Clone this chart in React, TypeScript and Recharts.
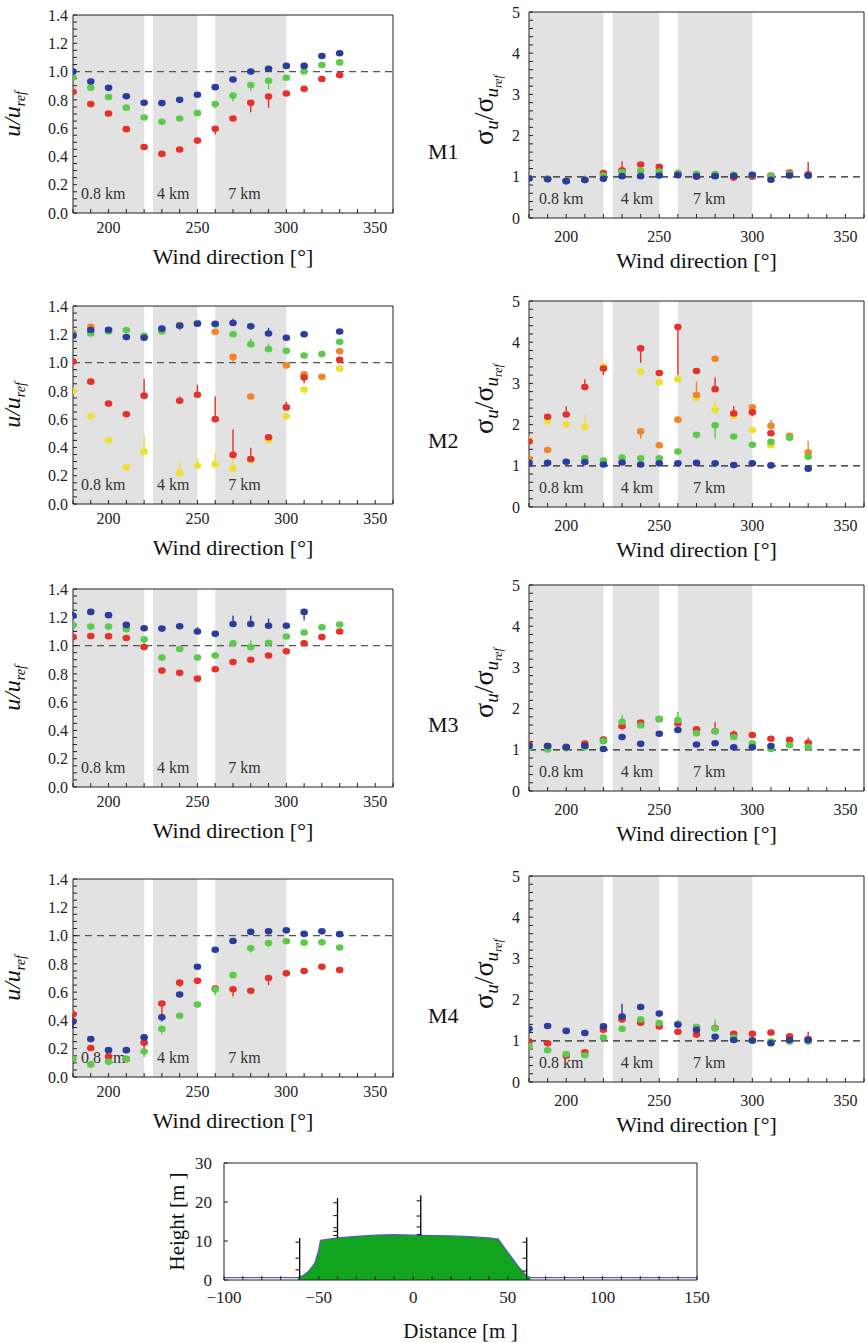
import React from "react";
import {
  Area,
  ComposedChart,
  ErrorBar,
  Line,
  ReferenceArea,
  ReferenceLine,
  Scatter,
  ScatterChart,
  XAxis,
  YAxis,
} from "recharts";

const FONT = '"Liberation Serif", "Times New Roman", serif';

const BLUE = "#2b3c9d";
const GREEN = "#5ccb4c";
const RED = "#e6312b";
const ORANGE = "#f08628";
const YELLOW = "#eee02f";

type Vals = (number | null)[];
type Err = [number, number][]; // [direction, signed error length]

const directions = [180, 190, 200, 210, 220, 230, 240, 250, 260, 270, 280, 290, 300, 310, 320, 330];

const sectorStart = [180, 225, 260];
const sectorEnd = [220, 250, 300];
const sectorName = ["0.8 km", "4 km", "7 km"];

// ---- M1
const m1SpeedRed = [0.857, 0.77, 0.703, 0.593, 0.467, 0.418, 0.449, 0.512, 0.595, 0.668, 0.78, 0.824, 0.845, 0.878, 0.947, 0.975];
const m1SpeedGreen = [0.96, 0.885, 0.82, 0.745, 0.675, 0.645, 0.668, 0.706, 0.77, 0.83, 0.905, 0.935, 0.956, 1.0, 1.046, 1.065];
const m1SpeedBlue = [1.0, 0.93, 0.885, 0.826, 0.78, 0.777, 0.8, 0.836, 0.89, 0.944, 1.0, 1.02, 1.04, 1.04, 1.11, 1.13];
const m1SpeedRedErr: Err = [[260, -0.04], [280, -0.07], [290, -0.08]];
const m1SpeedGreenErr: Err = [[260, -0.03], [270, -0.04], [280, -0.04], [290, -0.06]];

const m1SigmaRed = [0.97, 0.95, 0.9, 0.93, 1.09, 1.16, 1.3, 1.24, 1.08, 1.0, 1.03, 0.98, 1.0, 1.03, 1.105, 1.06];
const m1SigmaGreen = [0.97, 0.95, 0.9, 0.93, 1.03, 1.11, 1.146, 1.13, 1.09, 1.07, 1.065, 1.05, 1.04, 1.016, 1.07, 1.02];
const m1SigmaBlue = [0.96, 0.94, 0.895, 0.92, 0.95, 1.016, 1.016, 1.03, 1.04, 1.016, 1.016, 1.024, 1.05, 0.93, 1.03, 1.03];
const m1SigmaRedErr: Err = [[210, 0.1], [230, 0.22], [260, 0.1], [330, 0.3]];

// ---- M2
const m2SpeedYellow: Vals = [0.8, 0.62, 0.45, 0.26, 0.37, null, 0.22, 0.27, 0.28, 0.25, 0.31, 0.45, 0.62, 0.81, null, 0.957];
const m2SpeedOrange: Vals = [1.21, 1.253, null, null, null, null, 1.265, null, 1.218, 1.04, 0.76, null, 0.98, 0.917, 0.9, 1.08];
const m2SpeedRed: Vals = [1.007, 0.865, 0.71, 0.635, 0.766, null, 0.73, 0.773, 0.6, 0.347, 0.318, 0.472, 0.683, 0.894, null, 1.02];
const m2SpeedGreen: Vals = [1.2, 1.206, 1.22, 1.23, 1.19, 1.22, 1.262, 1.28, 1.27, 1.2, 1.13, 1.095, 1.083, 1.05, 1.06, 1.147];
const m2SpeedBlue: Vals = [1.19, 1.23, 1.232, 1.18, 1.175, 1.24, 1.26, 1.275, 1.275, 1.28, 1.256, 1.206, 1.175, 1.2, null, 1.22];
const m2SpeedYellowErr: Err = [[220, 0.12], [240, 0.08], [250, 0.05], [260, 0.08], [270, 0.08], [310, -0.03]];
const m2SpeedOrangeErr: Err = [[240, -0.04], [270, -0.04]];
const m2SpeedRedErr: Err = [[220, 0.12], [240, 0.03], [250, 0.07], [260, 0.16], [270, 0.18], [280, 0.08], [300, 0.04], [310, -0.04]];
const m2SpeedGreenErr: Err = [[280, 0.04], [290, 0.04]];
const m2SpeedBlueErr: Err = [[270, 0.03], [290, 0.04]];

const m2SigmaYellow: Vals = [1.64, 2.08, 2.0, 1.94, 3.42, null, 3.29, 3.03, 3.1, 2.65, 2.36, 2.21, 1.87, 1.5, null, null];
const m2SigmaOrange: Vals = [1.17, 1.385, null, null, null, null, 1.835, 1.5, 2.12, 2.72, 3.6, null, 2.42, 1.97, 1.73, 1.33];
const m2SigmaRed: Vals = [1.59, 2.19, 2.245, 2.91, 3.36, null, 3.85, 3.25, 4.37, 3.3, 2.86, 2.27, 2.3, 1.79, null, null];
const m2SigmaGreen: Vals = [null, null, null, 1.19, 1.13, 1.2, 1.185, 1.185, 1.345, 1.755, 1.98, 1.71, 1.51, 1.58, 1.68, 1.22];
const m2SigmaBlue: Vals = [1.07, 1.07, 1.1, 1.09, 1.03, 1.08, 1.03, 1.06, 1.06, 1.07, 1.06, 1.02, 1.06, 1.01, null, 0.93];
const m2SigmaYellowErr: Err = [[210, 0.3], [280, 0.22], [310, 0.08]];
const m2SigmaOrangeErr: Err = [[240, -0.18], [270, 0.33], [310, 0.15], [330, 0.27]];
const m2SigmaRedErr: Err = [[190, 0.06], [200, 0.2], [210, 0.19], [220, -0.16], [240, -0.35], [260, -1.17], [280, 0.29], [290, 0.18], [300, -0.1]];
const m2SigmaGreenErr: Err = [[270, -0.1], [280, -0.32]];

// ---- M3
const m3SpeedRed = [1.06, 1.068, 1.066, 1.054, 0.99, 0.823, 0.807, 0.766, 0.833, 0.884, 0.9, 0.93, 0.96, 1.016, 1.06, 1.1];
const m3SpeedGreen = [1.144, 1.134, 1.134, 1.115, 1.045, 0.915, 0.976, 0.915, 0.93, 1.016, 0.988, 1.02, 1.064, 1.092, 1.13, 1.149];
const m3SpeedBlue: Vals = [1.21, 1.238, 1.215, 1.146, 1.123, 1.12, 1.137, 1.1, 1.083, 1.153, 1.153, 1.14, 1.14, 1.238, null, null];
const m3SpeedGreenErr: Err = [[220, -0.04], [280, 0.05]];
const m3SpeedBlueErr: Err = [[180, 0.03], [250, 0.03], [270, 0.06], [280, 0.06], [290, 0.05], [310, -0.06]];

const m3SigmaRed = [1.13, 1.09, 1.07, 1.15, 1.25, 1.57, 1.66, 1.74, 1.64, 1.5, 1.45, 1.37, 1.36, 1.27, 1.24, 1.17];
const m3SigmaGreen = [1.05, 1.01, 1.04, 1.06, 1.21, 1.68, 1.59, 1.75, 1.72, 1.4, 1.45, 1.31, 1.15, 1.02, 1.11, 1.07];
const m3SigmaBlue: Vals = [1.09, 1.09, 1.06, 1.1, 1.02, 1.31, 1.145, 1.39, 1.48, 1.13, 1.16, 1.06, 1.06, 1.09, null, null];
const m3SigmaRedErr: Err = [[220, 0.07], [280, 0.23], [290, 0.1], [330, 0.13]];
const m3SigmaGreenErr: Err = [[230, 0.17], [260, 0.2]];

// ---- M4
const m4SpeedRed = [0.444, 0.205, 0.144, 0.125, 0.243, 0.52, 0.667, 0.68, 0.625, 0.62, 0.61, 0.7, 0.733, 0.75, 0.78, 0.756];
const m4SpeedGreen = [0.128, 0.088, 0.107, 0.128, 0.18, 0.34, 0.433, 0.512, 0.618, 0.72, 0.91, 0.948, 0.96, 0.95, 0.953, 0.916];
const m4SpeedBlue = [0.393, 0.268, 0.19, 0.19, 0.28, 0.423, 0.583, 0.78, 0.9, 0.962, 1.026, 1.03, 1.037, 1.012, 1.03, 1.01];
const m4SpeedRedErr: Err = [[180, -0.06], [220, -0.05], [230, -0.09], [240, -0.03], [270, -0.05], [290, -0.05]];
const m4SpeedGreenErr: Err = [[220, -0.04], [230, -0.04], [260, -0.04], [280, -0.03], [290, -0.03]];
const m4SpeedBlueErr: Err = [[180, -0.05], [230, -0.03]];

const m4SigmaRed = [0.98, 0.94, 0.64, 0.72, 1.27, 1.52, 1.44, 1.35, 1.22, 1.15, 1.31, 1.17, 1.17, 1.2, 1.11, 1.04];
const m4SigmaGreen = [0.87, 0.77, 0.68, 0.65, 1.08, 1.29, 1.52, 1.43, 1.41, 1.34, 1.3, 1.08, 1.0, 0.98, 0.98, 0.98];
const m4SigmaBlue = [1.29, 1.36, 1.24, 1.19, 1.35, 1.59, 1.82, 1.66, 1.39, 1.27, 1.1, 1.02, 1.01, 0.94, 1.02, 1.02];
const m4SigmaRedErr: Err = [[330, 0.18]];
const m4SigmaGreenErr: Err = [[280, 0.22], [290, 0.14]];
const m4SigmaBlueErr: Err = [[210, 0.08], [230, 0.31], [260, 0.1]];

// ---- terrain profile
const terrainDistance = [-100, -61, -58, -55, -52, -50, -49, -40, -30, -20, -10, 0, 10, 20, 30, 40, 45, 48, 52, 56, 60, 62, 150];
const terrainHeight = [0.6, 0.6, 1.2, 2.4, 4.3, 7.5, 10.2, 10.8, 11.2, 11.5, 11.6, 11.5, 11.4, 11.3, 11.1, 10.8, 10.5, 8.4, 5.8, 3.2, 1.0, 0.6, 0.6];
const hillStart = -61;
const hillEnd = 62;
const mastDistance = [-60, -40, 4, 60];
const mastBase = [0.6, 10.8, 11.5, 1.0];
const mastTop = [10.8, 21, 21.7, 10.9];
const mastLevels = [
  [2.6, 5.6, 9.7],
  [11.4, 12.5, 13.4, 16.5, 19.8],
  [11.6, 13.6, 16.4, 20.3],
  [2.3, 5.6, 9.7],
];

type Series = { color: string; values: Vals; errors: Err };

const m1Speed: Series[] = [
  { color: RED, values: m1SpeedRed, errors: m1SpeedRedErr },
  { color: GREEN, values: m1SpeedGreen, errors: m1SpeedGreenErr },
  { color: BLUE, values: m1SpeedBlue, errors: [] },
];
const m1Sigma: Series[] = [
  { color: RED, values: m1SigmaRed, errors: m1SigmaRedErr },
  { color: GREEN, values: m1SigmaGreen, errors: [] },
  { color: BLUE, values: m1SigmaBlue, errors: [] },
];
const m2Speed: Series[] = [
  { color: YELLOW, values: m2SpeedYellow, errors: m2SpeedYellowErr },
  { color: ORANGE, values: m2SpeedOrange, errors: m2SpeedOrangeErr },
  { color: RED, values: m2SpeedRed, errors: m2SpeedRedErr },
  { color: GREEN, values: m2SpeedGreen, errors: m2SpeedGreenErr },
  { color: BLUE, values: m2SpeedBlue, errors: m2SpeedBlueErr },
];
const m2Sigma: Series[] = [
  { color: YELLOW, values: m2SigmaYellow, errors: m2SigmaYellowErr },
  { color: ORANGE, values: m2SigmaOrange, errors: m2SigmaOrangeErr },
  { color: RED, values: m2SigmaRed, errors: m2SigmaRedErr },
  { color: GREEN, values: m2SigmaGreen, errors: m2SigmaGreenErr },
  { color: BLUE, values: m2SigmaBlue, errors: [] },
];
const m3Speed: Series[] = [
  { color: RED, values: m3SpeedRed, errors: [] },
  { color: GREEN, values: m3SpeedGreen, errors: m3SpeedGreenErr },
  { color: BLUE, values: m3SpeedBlue, errors: m3SpeedBlueErr },
];
const m3Sigma: Series[] = [
  { color: RED, values: m3SigmaRed, errors: m3SigmaRedErr },
  { color: GREEN, values: m3SigmaGreen, errors: m3SigmaGreenErr },
  { color: BLUE, values: m3SigmaBlue, errors: [] },
];
const m4Speed: Series[] = [
  { color: RED, values: m4SpeedRed, errors: m4SpeedRedErr },
  { color: GREEN, values: m4SpeedGreen, errors: m4SpeedGreenErr },
  { color: BLUE, values: m4SpeedBlue, errors: m4SpeedBlueErr },
];
const m4Sigma: Series[] = [
  { color: RED, values: m4SigmaRed, errors: m4SigmaRedErr },
  { color: GREEN, values: m4SigmaGreen, errors: m4SigmaGreenErr },
  { color: BLUE, values: m4SigmaBlue, errors: m4SigmaBlueErr },
];

const directionTicks = Array.from({ length: 19 }, (_, i) => 180 + i * 10);

function points(s: Series) {
  const errAt = new Map(s.errors);
  return directions
    .map((x, i) => {
      const e = errAt.get(x) ?? 0;
      return { x, y: s.values[i], err: e < 0 ? [-e, 0] : [0, e] };
    })
    .filter((d) => d.y !== null && d.y !== undefined);
}

const layout = {
  speed: { left: 0, width: 400, axisW: 73, right: 6, plotH: 198, max: 1.4, step: 0.05, major: 0.2, xGap: 13, yGap: 9, xLabelDy: 51, labelDx: [8, 4, 13], dash: "#555" },
  sigma: { left: 410, width: 457, axisW: 119, right: 2, plotH: 206, max: 5, step: 0.2, major: 1, xGap: 17, yGap: 13, xLabelDy: 50, labelDx: [10, 8, 15], dash: "#222" },
};

const tickStyle = { fill: "#222", fontSize: 16, fontFamily: FONT };

function speedLabel(p: any) {
  const vb = p.viewBox || {};
  const cx = vb.x + 20;
  const cy = vb.y + vb.height / 2;
  return (
    <text x={cx} y={cy} transform={`rotate(-90 ${cx} ${cy})`} textAnchor="middle" fontFamily={FONT} fontSize={24} fontStyle="italic" fill="#111">
      u/u<tspan fontSize={14} dy={5}>ref</tspan>
    </text>
  );
}

function sigmaLabel(p: any, name: string) {
  const vb = p.viewBox || {};
  const cx = vb.x + 83;
  const cy = vb.y + vb.height / 2 - 5;
  return (
    <g>
      <text x={vb.x + 18} y={vb.y + 147} fontFamily={FONT} fontSize={22} fill="#111">
        {name}
      </text>
      <text x={cx} y={cy} transform={`rotate(-90 ${cx} ${cy})`} textAnchor="middle" fontFamily={FONT} fontSize={28} fill="#111">
        σ<tspan fontSize={19} fontStyle="italic" dy={5}>u</tspan>
        <tspan dy={-5}>/σ</tspan>
        <tspan fontSize={19} fontStyle="italic" dy={5}>u</tspan>
        <tspan fontSize={12} fontStyle="italic" dy={4}>ref</tspan>
      </text>
    </g>
  );
}

function Panel({ kind, top, name, series }: { kind: "speed" | "sigma"; top: number; name: string; series: Series[] }) {
  const g = layout[kind];
  const mt = 9;
  const height = 10 + g.plotH + 62;
  const yTicks: number[] = [];
  for (let i = 0; i <= Math.round(g.max / g.step); i++) yTicks.push(Math.round(i * g.step * 100) / 100);
  const isMajor = (v: number) => Math.abs(v / g.major - Math.round(v / g.major)) < 1e-6;
  return (
    <div style={{ position: "absolute", left: g.left, top: top - 10 }}>
      <ScatterChart width={g.width} height={height} margin={{ top: mt, right: g.right, bottom: 0, left: 0 }}>
        {sectorStart.map((s, i) => (
          <ReferenceArea
            key={s}
            x1={s}
            x2={sectorEnd[i]}
            y1={0}
            y2={g.max}
            fill="#e2e2e2"
            fillOpacity={1}
            stroke="none"
            label={(p: any) => (
              <text x={p.viewBox.x + g.labelDx[i]} y={p.viewBox.y + p.viewBox.height - 14} fontFamily={FONT} fontSize={16} fill="#333">
                {sectorName[i]}
              </text>
            )}
          />
        ))}
        <ReferenceLine y={1} stroke={g.dash} strokeDasharray="7 5" strokeWidth={1.2} />
        {series.map((s, i) => (
          <Scatter
            key={i}
            data={points(s)}
            fill={s.color}
            isAnimationActive={false}
            shape={(p: any) => <ellipse cx={p.cx} cy={p.cy} rx={3.8} ry={3.3} fill={s.color} />}
          >
            <ErrorBar dataKey="err" direction="y" width={0} stroke={s.color} strokeWidth={1.4} isAnimationActive={false} />
          </Scatter>
        ))}
        <XAxis
          type="number"
          dataKey="x"
          domain={[180, 360]}
          ticks={directionTicks}
          interval={0}
          allowDataOverflow
          tickFormatter={(v: number) => (v % 50 === 0 && v > 180 && v < 360 ? String(v) : "")}
          tickSize={-4}
          tickMargin={g.xGap}
          height={62}
          stroke="#222"
          tick={tickStyle}
          label={(p: any) => (
            <text x={p.viewBox.x + p.viewBox.width / 2} y={p.viewBox.y + g.xLabelDy} textAnchor="middle" fontFamily={FONT} fontSize={22} fill="#111">
              Wind direction [°]
            </text>
          )}
        />
        <YAxis
          type="number"
          dataKey="y"
          domain={[0, g.max]}
          ticks={yTicks}
          interval={0}
          allowDataOverflow
          tickFormatter={(v: number) => (isMajor(v) ? (kind === "speed" ? v.toFixed(1) : String(Math.round(v))) : "")}
          tickSize={-4}
          tickMargin={g.yGap}
          width={g.axisW}
          stroke="#222"
          tick={tickStyle}
          label={(p: any) => (kind === "speed" ? speedLabel(p) : sigmaLabel(p, name))}
        />
        <XAxis xAxisId="top" orientation="top" type="number" domain={[180, 360]} ticks={directionTicks} interval={0} allowDataOverflow height={1} tickSize={-4} tick={false} stroke="#222" />
        <YAxis yAxisId="right" orientation="right" type="number" domain={[0, g.max]} ticks={yTicks} interval={0} allowDataOverflow width={1} tickSize={-4} tick={false} stroke="#222" />
      </ScatterChart>
    </div>
  );
}

const distanceTicks = Array.from({ length: 26 }, (_, i) => -100 + i * 10);

function TerrainChart() {
  const profile = terrainDistance.map((x, i) => ({ x, h: terrainHeight[i] }));
  const hill = profile.filter((d) => d.x >= hillStart && d.x <= hillEnd);
  return (
    <div style={{ position: "absolute", left: 150, top: 1140 }}>
      <ComposedChart width={560} height={203} margin={{ top: 22, right: 12, bottom: 0, left: 0 }}>
        <Area data={hill} dataKey="h" type="linear" fill="#10a51c" fillOpacity={1} stroke="none" isAnimationActive={false} />
        <Line data={profile} dataKey="h" type="linear" stroke="#5c5cb8" strokeWidth={1.3} dot={false} isAnimationActive={false} />
        {mastDistance.map((x, i) => (
          <ReferenceLine key={`m${i}`} segment={[{ x, y: mastBase[i] }, { x, y: mastTop[i] }]} stroke="#000" strokeWidth={1.3} />
        ))}
        {mastDistance.flatMap((x, i) =>
          mastLevels[i].map((h) => (
            <ReferenceLine key={`t${i}-${h}`} segment={[{ x: x - 2.2, y: h }, { x, y: h }]} stroke="#000" strokeWidth={1} />
          ))
        )}
        <XAxis
          type="number"
          dataKey="x"
          domain={[-100, 150]}
          ticks={distanceTicks}
          interval={0}
          allowDataOverflow
          tickFormatter={(v: number) => (v % 50 === 0 ? (v < 0 ? `−${-v}` : String(v)) : "")}
          tickSize={-4}
          tickMargin={15}
          height={63}
          stroke="#222"
          tick={{ fill: "#222", fontSize: 17, fontFamily: FONT }}
          label={(p: any) => (
            <text x={p.viewBox.x + p.viewBox.width / 2} y={p.viewBox.y + 58} textAnchor="middle" fontFamily={FONT} fontSize={21} fill="#111">
              Distance  [m ]
            </text>
          )}
        />
        <YAxis
          type="number"
          domain={[0, 30]}
          ticks={[0, 10, 20, 30]}
          interval={0}
          allowDataOverflow
          tickSize={-4}
          tickMargin={16}
          width={74}
          stroke="#222"
          tick={{ fill: "#222", fontSize: 17, fontFamily: FONT }}
          label={(p: any) => {
            const cx = p.viewBox.x + 34;
            const cy = p.viewBox.y + p.viewBox.height / 2;
            return (
              <text x={cx} y={cy} transform={`rotate(-90 ${cx} ${cy})`} textAnchor="middle" fontFamily={FONT} fontSize={21} fill="#111">
                Height  [m ]
              </text>
            );
          }}
        />
        <XAxis xAxisId="top" orientation="top" type="number" domain={[-100, 150]} allowDataOverflow height={1} tick={false} tickLine={false} stroke="#222" />
        <YAxis yAxisId="right" orientation="right" type="number" domain={[0, 30]} allowDataOverflow width={1} tick={false} tickLine={false} stroke="#222" />
      </ComposedChart>
    </div>
  );
}

export default function App() {
  return (
    <div style={{ position: "absolute", left: 0, top: 0, width: 867, height: 1343, background: "#fff", fontFamily: FONT }}>
      <Panel kind="speed" top={15} name="M1" series={m1Speed} />
      <Panel kind="sigma" top={12} name="M1" series={m1Sigma} />
      <Panel kind="speed" top={306} name="M2" series={m2Speed} />
      <Panel kind="sigma" top={301} name="M2" series={m2Sigma} />
      <Panel kind="speed" top={589} name="M3" series={m3Speed} />
      <Panel kind="sigma" top={585} name="M3" series={m3Sigma} />
      <Panel kind="speed" top={879} name="M4" series={m4Speed} />
      <Panel kind="sigma" top={876} name="M4" series={m4Sigma} />
      <TerrainChart />
    </div>
  );
}
